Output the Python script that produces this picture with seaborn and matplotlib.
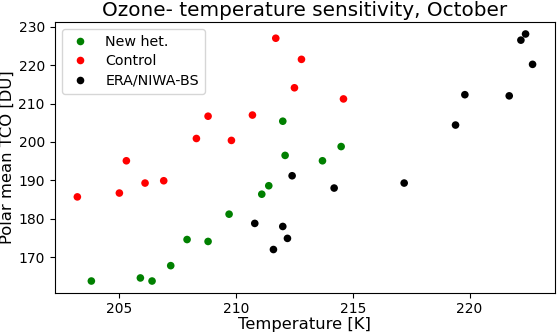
import pandas as pd
import seaborn as sns
import matplotlib.pyplot as plt

# values
new_het_temp = [203.8, 205.9, 206.4, 207.2, 207.9, 208.8, 209.7, 211.1, 211.4, 212.0, 212.1, 213.7, 214.5]
new_het_tco = [163.8, 164.6, 163.8, 167.8, 174.6, 174.1, 181.2, 186.4, 188.6, 205.4, 196.5, 195.1, 198.8]

control_temp = [203.2, 205.0, 205.3, 206.1, 206.9, 208.3, 208.8, 209.8, 210.7, 211.7, 212.5, 212.8, 214.6]
control_tco = [185.7, 186.7, 195.1, 189.3, 189.9, 200.9, 206.7, 200.4, 207.0, 227.0, 214.1, 221.5, 211.2]

era_temp = [210.8, 211.6, 212.0, 212.2, 212.4, 214.2, 217.2, 219.4, 219.8, 221.7, 222.2, 222.4, 222.7]
era_tco = [178.8, 172.0, 178.0, 174.9, 191.2, 188.0, 189.3, 204.4, 212.3, 212.0, 226.5, 228.1, 220.2]

labels = ['New het.', 'Control', 'ERA/NIWA-BS']
colors = ['green', 'red', 'black']

df = pd.concat([
    pd.DataFrame({'temp': new_het_temp, 'tco': new_het_tco, 'run': labels[0]}),
    pd.DataFrame({'temp': control_temp, 'tco': control_tco, 'run': labels[1]}),
    pd.DataFrame({'temp': era_temp, 'tco': era_tco, 'run': labels[2]}),
])

fig, ax = plt.subplots(figsize=(5.57, 3.33), dpi=100)
sns.scatterplot(data=df, x='temp', y='tco', hue='run', hue_order=labels,
                palette=dict(zip(labels, colors)), s=30, linewidth=0, ax=ax)

ax.set_title('Ozone- temperature sensitivity, October', fontsize=14.4, pad=4)
ax.set_xlabel('Temperature [K]', fontsize=11.8, labelpad=1)
ax.set_ylabel('Polar mean TCO [DU]', fontsize=11.8, labelpad=2.5)
ax.set_xticks([205, 210, 215, 220])
ax.set_yticks([170, 180, 190, 200, 210, 220, 230])
ax.tick_params(labelsize=10)
ax.tick_params(axis='x', pad=2.5)
ax.legend(title=None, loc='upper left', fontsize=10.3, handlelength=1.8,
          handletextpad=0.85, borderpad=0.4, labelspacing=0.4)

plt.subplots_adjust(left=0.098, right=0.997, top=0.935, bottom=0.119)
plt.savefig('out.png')
